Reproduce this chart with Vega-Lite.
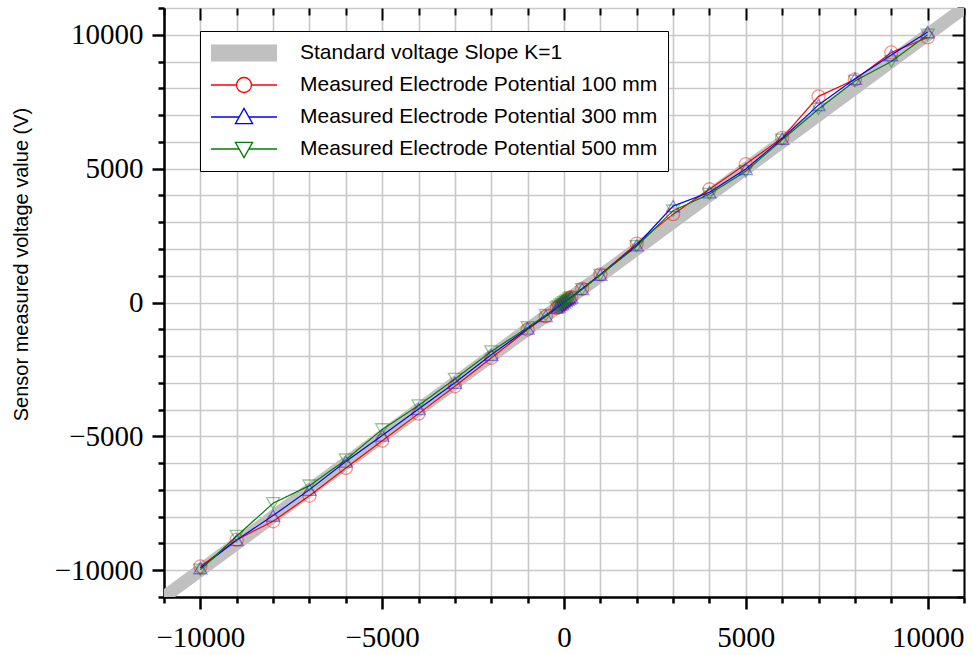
{
  "$schema": "https://vega.github.io/schema/vega-lite/v6.json",
  "width": 800,
  "height": 589,
  "autosize": {"type": "none"},
  "padding": {"left": 164, "top": 8, "right": 9, "bottom": 58},
  "background": "white",
  "config": {"view": {"stroke": null}},
  "datasets": {
    "std": [
      {"x": -11000, "y": -11000, "s": "Standard voltage Slope K=1"},
      {"x": 11000, "y": 11000, "s": "Standard voltage Slope K=1"}
    ],
    "meas": [
      {"x": -10000, "y": -9860, "s": "Measured Electrode Potential 100 mm"},
      {"x": -9000, "y": -8860, "s": "Measured Electrode Potential 100 mm"},
      {"x": -8000, "y": -8170, "s": "Measured Electrode Potential 100 mm"},
      {"x": -7000, "y": -7220, "s": "Measured Electrode Potential 100 mm"},
      {"x": -6000, "y": -6180, "s": "Measured Electrode Potential 100 mm"},
      {"x": -5000, "y": -5160, "s": "Measured Electrode Potential 100 mm"},
      {"x": -4000, "y": -4150, "s": "Measured Electrode Potential 100 mm"},
      {"x": -3000, "y": -3130, "s": "Measured Electrode Potential 100 mm"},
      {"x": -2000, "y": -2070, "s": "Measured Electrode Potential 100 mm"},
      {"x": -1000, "y": -1010, "s": "Measured Electrode Potential 100 mm"},
      {"x": -500, "y": -520, "s": "Measured Electrode Potential 100 mm"},
      {"x": -200, "y": -210, "s": "Measured Electrode Potential 100 mm"},
      {"x": -150, "y": -160, "s": "Measured Electrode Potential 100 mm"},
      {"x": -100, "y": -105, "s": "Measured Electrode Potential 100 mm"},
      {"x": -50, "y": -55, "s": "Measured Electrode Potential 100 mm"},
      {"x": 0, "y": 0, "s": "Measured Electrode Potential 100 mm"},
      {"x": 50, "y": 50, "s": "Measured Electrode Potential 100 mm"},
      {"x": 100, "y": 105, "s": "Measured Electrode Potential 100 mm"},
      {"x": 150, "y": 150, "s": "Measured Electrode Potential 100 mm"},
      {"x": 200, "y": 205, "s": "Measured Electrode Potential 100 mm"},
      {"x": 500, "y": 520, "s": "Measured Electrode Potential 100 mm"},
      {"x": 1000, "y": 1050, "s": "Measured Electrode Potential 100 mm"},
      {"x": 2000, "y": 2200, "s": "Measured Electrode Potential 100 mm"},
      {"x": 3000, "y": 3300, "s": "Measured Electrode Potential 100 mm"},
      {"x": 4000, "y": 4230, "s": "Measured Electrode Potential 100 mm"},
      {"x": 5000, "y": 5170, "s": "Measured Electrode Potential 100 mm"},
      {"x": 6000, "y": 6150, "s": "Measured Electrode Potential 100 mm"},
      {"x": 7000, "y": 7700, "s": "Measured Electrode Potential 100 mm"},
      {"x": 8000, "y": 8330, "s": "Measured Electrode Potential 100 mm"},
      {"x": 9000, "y": 9340, "s": "Measured Electrode Potential 100 mm"},
      {"x": 10000, "y": 9900, "s": "Measured Electrode Potential 100 mm"},
      {"x": -10000, "y": -9920, "s": "Measured Electrode Potential 300 mm"},
      {"x": -9000, "y": -8870, "s": "Measured Electrode Potential 300 mm"},
      {"x": -8000, "y": -7960, "s": "Measured Electrode Potential 300 mm"},
      {"x": -7000, "y": -6990, "s": "Measured Electrode Potential 300 mm"},
      {"x": -6000, "y": -5940, "s": "Measured Electrode Potential 300 mm"},
      {"x": -5000, "y": -4970, "s": "Measured Electrode Potential 300 mm"},
      {"x": -4000, "y": -3980, "s": "Measured Electrode Potential 300 mm"},
      {"x": -3000, "y": -3000, "s": "Measured Electrode Potential 300 mm"},
      {"x": -2000, "y": -1950, "s": "Measured Electrode Potential 300 mm"},
      {"x": -1000, "y": -970, "s": "Measured Electrode Potential 300 mm"},
      {"x": -500, "y": -500, "s": "Measured Electrode Potential 300 mm"},
      {"x": -200, "y": -195, "s": "Measured Electrode Potential 300 mm"},
      {"x": -150, "y": -145, "s": "Measured Electrode Potential 300 mm"},
      {"x": -100, "y": -95, "s": "Measured Electrode Potential 300 mm"},
      {"x": -50, "y": -50, "s": "Measured Electrode Potential 300 mm"},
      {"x": 0, "y": 5, "s": "Measured Electrode Potential 300 mm"},
      {"x": 50, "y": 55, "s": "Measured Electrode Potential 300 mm"},
      {"x": 100, "y": 100, "s": "Measured Electrode Potential 300 mm"},
      {"x": 150, "y": 155, "s": "Measured Electrode Potential 300 mm"},
      {"x": 200, "y": 200, "s": "Measured Electrode Potential 300 mm"},
      {"x": 500, "y": 505, "s": "Measured Electrode Potential 300 mm"},
      {"x": 1000, "y": 1040, "s": "Measured Electrode Potential 300 mm"},
      {"x": 2000, "y": 2140, "s": "Measured Electrode Potential 300 mm"},
      {"x": 3000, "y": 3600, "s": "Measured Electrode Potential 300 mm"},
      {"x": 4000, "y": 4120, "s": "Measured Electrode Potential 300 mm"},
      {"x": 5000, "y": 4990, "s": "Measured Electrode Potential 300 mm"},
      {"x": 6000, "y": 6120, "s": "Measured Electrode Potential 300 mm"},
      {"x": 7000, "y": 7380, "s": "Measured Electrode Potential 300 mm"},
      {"x": 8000, "y": 8360, "s": "Measured Electrode Potential 300 mm"},
      {"x": 9000, "y": 9240, "s": "Measured Electrode Potential 300 mm"},
      {"x": 10000, "y": 10100, "s": "Measured Electrode Potential 300 mm"},
      {"x": -10000, "y": -9980, "s": "Measured Electrode Potential 500 mm"},
      {"x": -9000, "y": -8720, "s": "Measured Electrode Potential 500 mm"},
      {"x": -8000, "y": -7500, "s": "Measured Electrode Potential 500 mm"},
      {"x": -7000, "y": -6840, "s": "Measured Electrode Potential 500 mm"},
      {"x": -6000, "y": -5870, "s": "Measured Electrode Potential 500 mm"},
      {"x": -5000, "y": -4740, "s": "Measured Electrode Potential 500 mm"},
      {"x": -4000, "y": -3850, "s": "Measured Electrode Potential 500 mm"},
      {"x": -3000, "y": -2860, "s": "Measured Electrode Potential 500 mm"},
      {"x": -2000, "y": -1830, "s": "Measured Electrode Potential 500 mm"},
      {"x": -1000, "y": -930, "s": "Measured Electrode Potential 500 mm"},
      {"x": -500, "y": -470, "s": "Measured Electrode Potential 500 mm"},
      {"x": -200, "y": -185, "s": "Measured Electrode Potential 500 mm"},
      {"x": -150, "y": -140, "s": "Measured Electrode Potential 500 mm"},
      {"x": -100, "y": -90, "s": "Measured Electrode Potential 500 mm"},
      {"x": -50, "y": -45, "s": "Measured Electrode Potential 500 mm"},
      {"x": 0, "y": 5, "s": "Measured Electrode Potential 500 mm"},
      {"x": 50, "y": 50, "s": "Measured Electrode Potential 500 mm"},
      {"x": 100, "y": 95, "s": "Measured Electrode Potential 500 mm"},
      {"x": 150, "y": 145, "s": "Measured Electrode Potential 500 mm"},
      {"x": 200, "y": 195, "s": "Measured Electrode Potential 500 mm"},
      {"x": 500, "y": 490, "s": "Measured Electrode Potential 500 mm"},
      {"x": 1000, "y": 1030, "s": "Measured Electrode Potential 500 mm"},
      {"x": 2000, "y": 2100, "s": "Measured Electrode Potential 500 mm"},
      {"x": 3000, "y": 3430, "s": "Measured Electrode Potential 500 mm"},
      {"x": 4000, "y": 4050, "s": "Measured Electrode Potential 500 mm"},
      {"x": 5000, "y": 4900, "s": "Measured Electrode Potential 500 mm"},
      {"x": 6000, "y": 6080, "s": "Measured Electrode Potential 500 mm"},
      {"x": 7000, "y": 7230, "s": "Measured Electrode Potential 500 mm"},
      {"x": 8000, "y": 8270, "s": "Measured Electrode Potential 500 mm"},
      {"x": 9000, "y": 9000, "s": "Measured Electrode Potential 500 mm"},
      {"x": 10000, "y": 10000, "s": "Measured Electrode Potential 500 mm"}
    ]
  },
  "layer": [
    {
      "data": {"name": "std"},
      "mark": {"type": "line", "stroke": "#c0c0c0", "strokeWidth": 13, "clip": true},
      "encoding": {
        "x": {
          "field": "x", "type": "quantitative",
          "scale": {"domain": [-11000, 11000], "nice": false, "zero": false},
          "axis": {
            "orient": "bottom", "title": null,
            "values": [-11000,-10000,-9000,-8000,-7000,-6000,-5000,-4000,-3000,-2000,-1000,0,1000,2000,3000,4000,5000,6000,7000,8000,9000,10000,11000],
            "format": "d",
            "labelExpr": "datum.value % 5000 === 0 ? datum.label : ''",
            "labelFont": "Liberation Serif", "labelFontSize": 29, "labelColor": "#000",
            "labelPadding": 14, "labelOverlap": false, "labelFlush": false,
            "tickSize": {"condition": {"test": "datum.value % 5000 === 0", "value": 12}, "value": 6},
            "tickWidth": 2.5, "tickColor": "#000",
            "domainColor": "#000", "domainWidth": 2.5,
            "grid": true, "gridColor": "#c8c8c8", "gridWidth": 1.6
          }
        },
        "y": {
          "field": "y", "type": "quantitative",
          "scale": {"domain": [-11000, 11000], "nice": false, "zero": false},
          "axis": {
            "orient": "left",
            "title": "Sensor measured voltage value (V)",
            "titleFont": "Liberation Sans", "titleFontSize": 20, "titleFontWeight": "normal", "titleColor": "#000",
            "titleAngle": 270, "titleX": -143, "titleY": 256, "titleAlign": "center", "titleBaseline": "middle",
            "values": [-11000,-10000,-9000,-8000,-7000,-6000,-5000,-4000,-3000,-2000,-1000,0,1000,2000,3000,4000,5000,6000,7000,8000,9000,10000,11000],
            "format": "d",
            "labelExpr": "datum.value % 5000 === 0 ? datum.label : ''",
            "labelFont": "Liberation Serif", "labelFontSize": 29, "labelColor": "#000",
            "labelPadding": 9, "labelOverlap": false, "labelFlush": false,
            "tickSize": {"condition": {"test": "datum.value % 5000 === 0", "value": 12}, "value": 6},
            "tickWidth": 2.5, "tickColor": "#000",
            "domainColor": "#000", "domainWidth": 2.5,
            "grid": true, "gridColor": "#c8c8c8", "gridWidth": 1.6
          }
        }
      }
    },
    {
      "data": {"name": "meas"},
      "mark": {"type": "line", "strokeWidth": 1.2, "clip": true},
      "encoding": {
        "x": {
          "field": "x", "type": "quantitative",
          "scale": {"domain": [-11000, 11000], "nice": false, "zero": false},
          "axis": {
            "orient": "top", "title": null, "labels": false, "domain": false, "grid": false,
            "values": [-11000,-10000,-9000,-8000,-7000,-6000,-5000,-4000,-3000,-2000,-1000,0,1000,2000,3000,4000,5000,6000,7000,8000,9000,10000,11000],
            "tickSize": {"condition": {"test": "datum.value % 5000 === 0", "value": -12}, "value": -7},
            "tickWidth": 2, "tickColor": "#000"
          }
        },
        "y": {
          "field": "y", "type": "quantitative",
          "scale": {"domain": [-11000, 11000], "nice": false, "zero": false},
          "axis": {
            "orient": "right", "title": null, "labels": false, "grid": false,
            "domain": true, "domainColor": "#000", "domainWidth": 2,
            "values": [-11000,-10000,-9000,-8000,-7000,-6000,-5000,-4000,-3000,-2000,-1000,0,1000,2000,3000,4000,5000,6000,7000,8000,9000,10000,11000],
            "tickSize": {"condition": {"test": "datum.value % 5000 === 0", "value": -12}, "value": -7},
            "tickWidth": 2, "tickColor": "#000"
          }
        },
        "stroke": {
          "field": "s", "type": "nominal",
          "scale": {
            "domain": ["Measured Electrode Potential 100 mm", "Measured Electrode Potential 300 mm", "Measured Electrode Potential 500 mm"],
            "range": ["#ff0000", "#0000ff", "#008000"]
          },
          "legend": null
        }
      }
    },
    {
      "data": {"name": "meas"},
      "mark": {"type": "point", "filled": false, "size": 170, "strokeWidth": 1.3, "strokeOpacity": 0.6, "clip": true},
      "encoding": {
        "x": {"field": "x", "type": "quantitative", "scale": {"domain": [-11000, 11000], "nice": false, "zero": false}, "axis": null},
        "y": {"field": "y", "type": "quantitative", "scale": {"domain": [-11000, 11000], "nice": false, "zero": false}, "axis": null},
        "shape": {
          "field": "s", "type": "nominal",
          "scale": {
            "domain": ["Measured Electrode Potential 100 mm", "Measured Electrode Potential 300 mm", "Measured Electrode Potential 500 mm"],
            "range": ["circle", "triangle-up", "triangle-down"]
          },
          "legend": null
        },
        "color": {
          "field": "s", "type": "nominal",
          "scale": {
            "domain": ["Measured Electrode Potential 100 mm", "Measured Electrode Potential 300 mm", "Measured Electrode Potential 500 mm"],
            "range": ["#ff0000", "#0000ff", "#008000"]
          },
          "legend": null
        }
      }
    },
    {
      "data": {"values": []},
      "mark": {"type": "point", "filled": false, "strokeWidth": 1.3},
      "encoding": {
        "x": {"field": "x", "type": "quantitative", "scale": {"domain": [-11000, 11000], "nice": false, "zero": false}, "axis": null},
        "y": {"field": "y", "type": "quantitative", "scale": {"domain": [-11000, 11000], "nice": false, "zero": false}, "axis": null},
        "shape": {
          "field": "s", "type": "nominal",
          "scale": {
            "domain": ["Standard voltage Slope K=1", "Measured Electrode Potential 100 mm", "Measured Electrode Potential 300 mm", "Measured Electrode Potential 500 mm"],
            "range": [
              "M-1,-0.24H1M-1,-0.21H1M-1,-0.18H1M-1,-0.15H1M-1,-0.12H1M-1,-0.09H1M-1,-0.06H1M-1,-0.03H1M-1,0H1M-1,0.03H1M-1,0.06H1M-1,0.09H1M-1,0.12H1M-1,0.15H1M-1,0.18H1M-1,0.21H1M-1,0.24H1",
              "M-1,0H-0.227M0.227,0H1M-0.227,0A0.227,0.227,0,1,1,0.227,0A0.227,0.227,0,1,1,-0.227,0",
              "M-1,0H-0.147M0.147,0H1M0,-0.26L0.26,0.2L-0.26,0.2Z",
              "M-1,0H-0.147M0.147,0H1M0,0.26L0.26,-0.2L-0.26,-0.2Z"
            ]
          },
          "legend": {
            "title": null, "orient": "none", "legendX": 36, "legendY": 23, "direction": "vertical",
            "padding": 10, "fillColor": "#ffffff", "strokeColor": "#000000",
            "symbolSize": 4356, "symbolStrokeWidth": 1.3, "symbolOpacity": 1,
            "clipHeight": 24, "rowPadding": 8,
            "labelFont": "Liberation Sans", "labelFontSize": 21, "labelColor": "#000", "labelOffset": 22, "labelLimit": 600
          }
        },
        "color": {
          "field": "s", "type": "nominal",
          "scale": {
            "domain": ["Standard voltage Slope K=1", "Measured Electrode Potential 100 mm", "Measured Electrode Potential 300 mm", "Measured Electrode Potential 500 mm"],
            "range": ["#c0c0c0", "#ff0000", "#0000ff", "#008000"]
          },
          "legend": {
            "title": null, "orient": "none", "legendX": 36, "legendY": 23, "direction": "vertical",
            "padding": 10, "fillColor": "#ffffff", "strokeColor": "#000000",
            "symbolSize": 4356, "symbolStrokeWidth": 1.3, "symbolOpacity": 1,
            "clipHeight": 24, "rowPadding": 8,
            "labelFont": "Liberation Sans", "labelFontSize": 21, "labelColor": "#000", "labelOffset": 22, "labelLimit": 600
          }
        }
      }
    }
  ],
  "resolve": {
    "axis": {"x": "independent", "y": "independent"},
    "scale": {"color": "independent", "shape": "independent"}
  }
}
